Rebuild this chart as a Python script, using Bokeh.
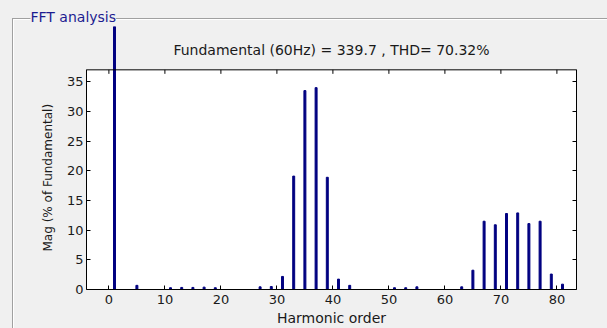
from bokeh.plotting import figure
from bokeh.models import Range1d, LinearAxis, FixedTicker, Title
from bokeh.core.properties import value
from bokeh.embed import file_html
from bokeh.resources import INLINE

# Harmonic spectrum (% of fundamental)
harmonics = [1, 5, 11, 13, 15, 17, 19, 27, 29, 31, 33, 35, 37, 39, 41, 43,
             51, 53, 55, 63, 65, 67, 69, 71, 73, 75, 77, 79, 81]
magnitude = [100.0, 0.7, 0.3, 0.35, 0.35, 0.4, 0.3, 0.45, 0.5, 2.2, 19.1, 33.5,
             34.0, 18.9, 1.75, 0.7, 0.3, 0.3, 0.45, 0.45, 3.25, 11.5, 10.9,
             12.8, 12.9, 11.1, 11.5, 2.6, 0.9]

x_ticks = [0, 10, 20, 30, 40, 50, 60, 70, 80]
y_ticks = [0, 5, 10, 15, 20, 25, 30, 35]

title_text = "Fundamental (60Hz) = 339.7 , THD= 70.32%"
panel_title = "FFT analysis"
x_label = "Harmonic order"
y_label = "Mag (% of Fundamental)"

xlim = (-4.0, 83.5)
ylim = (0.0, 37.0)
y_view_top = 44.3

BG = "#f0f0f0"
BAR = "#000080"
FONT = "DejaVu Sans"
ETCH = "#a0a0a0"

p = figure(width=607, height=328, output_backend="svg", toolbar_location=None,
           x_range=Range1d(*xlim), y_range=Range1d(ylim[0], y_view_top),
           min_border_left=86, min_border_right=31, min_border_top=26,
           min_border_bottom=39)
p.background_fill_color = BG
p.border_fill_color = None
p.outline_line_color = None
p.grid.visible = False

# etched panel frame behind the canvas
p.styles = {
    "background-color": BG,
    "background-image": ", ".join([f"linear-gradient({ETCH}, {ETCH})"] * 2
                                  + ["linear-gradient(#ffffff, #ffffff)"] * 2),
    "background-size": "600px 1px, 1px 320px, 600px 1px, 1px 320px",
    "background-position": "12px 18px, 12px 18px, 13px 19px, 13px 19px",
    "background-repeat": "no-repeat",
}

# white axes box
p.quad(left=[xlim[0]], right=[xlim[1]], bottom=[ylim[0]], top=[ylim[1]],
       fill_color="white", line_color=None)

# spectrum bars
p.vbar(x=harmonics, top=magnitude, width=0.35, color=BAR)

# top border of the axes box with inward ticks
p.line(x=list(xlim), y=[ylim[1], ylim[1]], line_color="black", line_width=1)
tick_len = 4 * (y_view_top - ylim[0]) / 263.0
p.segment(x0=x_ticks, x1=x_ticks, y0=[ylim[1]] * len(x_ticks),
          y1=[ylim[1] - tick_len] * len(x_ticks), line_color="black")

def style_axis(ax):
    ax.axis_line_color = "black"
    ax.major_tick_line_color = "black"
    ax.major_tick_in = 4
    ax.major_tick_out = 0
    ax.minor_tick_in = 0
    ax.minor_tick_out = 0
    ax.minor_tick_line_color = None
    ax.major_label_text_font = FONT
    ax.major_label_text_font_size = "13px"
    ax.major_label_text_color = "#1a1a1a"
    ax.axis_label_text_font = FONT
    ax.axis_label_text_font_size = "14px"
    ax.axis_label_text_font_style = "normal"
    ax.axis_label_text_color = "#1a1a1a"

xa = p.xaxis[0]
style_axis(xa)
xa.ticker = FixedTicker(ticks=x_ticks)
xa.axis_label = x_label
xa.major_label_standoff = 5
xa.axis_label_standoff = 3

ya = p.yaxis[0]
style_axis(ya)
ya.ticker = FixedTicker(ticks=y_ticks)
ya.bounds = ylim
ya.major_label_standoff = 3

ra = LinearAxis(ticker=FixedTicker(ticks=y_ticks), bounds=ylim)
style_axis(ra)
ra.major_label_text_color = None
ra.major_label_text_font_size = "1px"
p.add_layout(ra, "right")

# y axis caption, centred on the axes box rather than the whole frame
p.add_layout(Title(text=y_label, align="left", offset=38, standoff=18,
                   text_font=FONT, text_font_size="12px",
                   text_font_style="normal", text_color="#1a1a1a"), "left")

# chart heading
p.text(x=[(xlim[0] + xlim[1]) / 2], y=[40.26], text=[title_text],
       text_align="center", text_baseline="middle", text_font=value(FONT),
       text_font_size="14px", text_color="#1a1a1a")

# panel caption sitting on the etched line
p.add_layout(Title(text=panel_title, align="left", offset=-56, standoff=4,
                   text_font=FONT, text_font_size="14px",
                   text_font_style="normal", text_color="#1c1c90",
                   background_fill_color=BG), "above")

open("out.html", "w").write(file_html(p, INLINE))
